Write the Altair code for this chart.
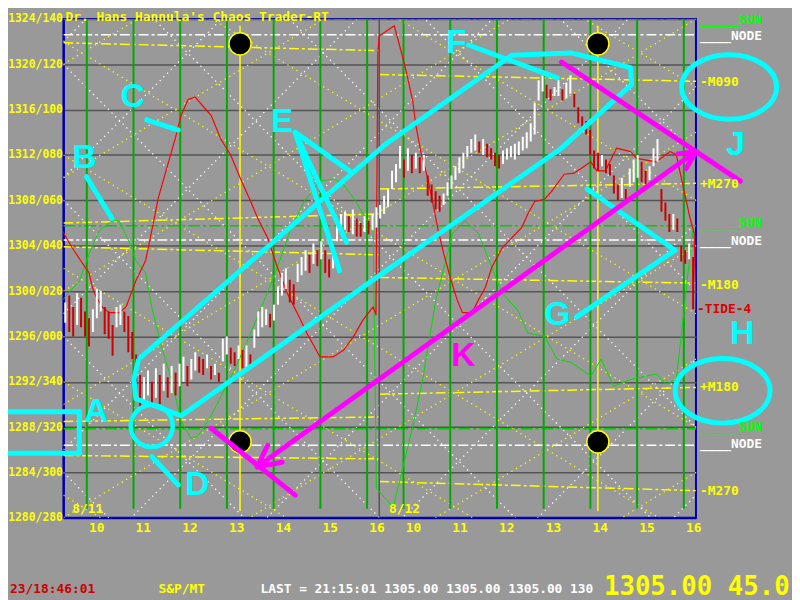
import altair as alt
import pandas as pd

# ------------------------------------------------------------------ texts
TITLE = "Dr. Hans Hannula's Chaos Trader-RT"
FOOT_CLOCK = "23/18:46:01"
FOOT_SYMBOL = "S&P/MT"
FOOT_LAST = "LAST = 21:15:01 1305.00 1305.00 1305.00 130"
FOOT_BIG = "1305.00 45.0"
DAY_LABELS = ["8/11", "8/12"]

# ------------------------------------------------------------------ axes
Y_TICKS = [1280, 1284, 1288, 1292, 1296, 1300, 1304, 1308, 1312, 1316, 1320, 1324]
Y_SUFFIX = ["280", "300", "320", "340", "000", "020", "040", "060", "080", "100", "120", "140"]
HOURS = [10, 11, 12, 13, 14, 15, 16]
DAY2_SHIFT = 6.78          # session 2 is drawn right after session 1
X_DOMAIN = [9.30, 22.84]
Y_DOMAIN = [1280, 1324]
SESSION_BREAK = 16.06

# ------------------------------------------------------------------ price bars (high / low)
D1_START, D1_STEP = 9.34, 0.0843
D2_START, D2_STEP = 16.08, 0.0848
D1_HI = [1299.0, 1299.6, 1298.6, 1299.8, 1299.4, 1298.2, 1297.6, 1298.4, 1300.2, 1300.0,
         1298.6, 1298.2, 1297.0, 1298.6, 1298.8, 1298.2, 1297.8, 1296.4, 1294.4, 1292.6,
         1292.4, 1293.0, 1292.0, 1293.2, 1292.6, 1293.6, 1292.4, 1293.4, 1292.8, 1293.6,
         1294.2, 1293.4, 1294.0, 1294.6, 1294.2, 1294.0, 1294.4, 1293.4, 1293.6, 1292.8,
         1295.8, 1296.0, 1295.0, 1294.6, 1295.2, 1294.8, 1295.2, 1294.4, 1296.6, 1298.2,
         1298.6, 1298.4, 1298.0, 1298.8, 1300.4, 1301.6, 1302.0, 1301.0, 1300.6, 1302.4,
         1303.0, 1303.6, 1303.2, 1304.2, 1303.6, 1304.4, 1303.6, 1302.8, 1303.4, 1305.8,
         1306.8, 1307.0, 1306.6, 1307.2, 1306.4, 1306.0, 1306.6, 1306.2, 1306.8, 1307.4]
D1_LO = [1297.2, 1296.4, 1296.0, 1297.0, 1296.8, 1296.0, 1295.1, 1296.4, 1297.6, 1298.2,
         1296.2, 1295.8, 1294.3, 1296.8, 1297.0, 1296.4, 1294.6, 1294.0, 1290.4, 1289.8,
         1290.2, 1290.8, 1289.8, 1290.6, 1290.0, 1291.2, 1290.6, 1291.0, 1290.8, 1291.6,
         1292.0, 1291.6, 1292.2, 1293.0, 1292.8, 1292.6, 1293.2, 1292.2, 1292.6, 1292.0,
         1293.8, 1294.4, 1293.6, 1293.4, 1294.0, 1293.2, 1292.9, 1293.4, 1295.0, 1296.0,
         1296.8, 1297.0, 1296.8, 1297.4, 1298.8, 1299.6, 1300.2, 1299.0, 1298.8, 1300.8,
         1301.4, 1301.8, 1301.6, 1302.4, 1302.2, 1302.8, 1301.6, 1301.2, 1302.0, 1304.4,
         1305.0, 1305.4, 1305.2, 1305.0, 1304.8, 1304.8, 1305.2, 1305.0, 1305.4, 1305.6]
D2_HI = [1307.6, 1308.4, 1309.0, 1310.6, 1311.2, 1312.8, 1311.6, 1312.6, 1312.0, 1312.2,
         1311.8, 1312.0, 1310.2, 1309.4, 1308.8, 1308.4, 1308.6, 1309.6, 1310.2, 1311.0,
         1311.8, 1312.2, 1312.8, 1313.4, 1313.8, 1313.2, 1313.4, 1313.0, 1312.6, 1312.2,
         1312.0, 1312.4, 1312.6, 1312.8, 1313.0, 1313.2, 1313.6, 1314.0, 1314.8, 1316.6,
         1318.6, 1319.0, 1318.2, 1317.8, 1318.0, 1318.6, 1317.8, 1318.4, 1319.0, 1317.4,
         1316.2, 1315.4, 1315.0, 1314.2, 1312.4, 1312.2, 1312.0, 1311.6, 1311.2, 1310.2,
         1309.4, 1310.0, 1309.0, 1310.8, 1311.6, 1312.0, 1311.4, 1310.6, 1311.0, 1312.6,
         1313.4, 1309.0, 1307.8, 1306.8, 1306.8, 1306.4, 1304.0, 1303.6, 1304.2, 1303.0]
D2_LO = [1306.4, 1306.8, 1307.4, 1309.0, 1309.6, 1310.8, 1310.0, 1310.6, 1310.4, 1310.8,
         1310.4, 1310.6, 1308.4, 1307.8, 1307.2, 1307.0, 1307.6, 1308.4, 1309.0, 1309.8,
         1310.4, 1310.8, 1311.8, 1312.2, 1312.4, 1312.2, 1312.0, 1311.8, 1311.6, 1311.0,
         1310.8, 1311.2, 1311.6, 1311.8, 1311.6, 1312.0, 1312.4, 1312.6, 1313.2, 1313.8,
         1316.8, 1317.6, 1317.0, 1316.8, 1317.2, 1317.2, 1316.8, 1317.0, 1317.4, 1316.2,
         1314.8, 1314.2, 1313.8, 1312.0, 1310.8, 1310.6, 1311.0, 1310.4, 1310.2, 1308.6,
         1308.0, 1308.2, 1307.8, 1309.2, 1309.6, 1310.0, 1309.6, 1309.4, 1309.8, 1311.0,
         1311.4, 1307.0, 1306.2, 1305.2, 1305.4, 1305.2, 1302.6, 1302.4, 1302.8, 1298.4]

# ------------------------------------------------------------------ oscillator lines
RED_U = [9.28, 9.49, 9.70, 9.85, 9.92, 10.0, 10.13, 10.28, 10.49, 10.64, 10.85, 11.06, 11.19,
         11.33, 11.55, 11.69, 11.82, 11.97, 12.12, 12.33, 12.46, 12.67, 12.88, 13.09, 13.31,
         13.45, 13.67, 13.88, 14.09, 14.30, 14.51, 14.79, 15.08, 15.30, 15.51, 15.72, 15.93,
         15.99, 16.03, 16.06, 16.38, 16.48, 16.63, 16.78, 16.84, 16.95, 17.10, 17.20, 17.31,
         17.44, 17.58, 17.73, 17.84, 18.05, 18.18, 18.33, 18.47, 18.69, 18.90, 19.11, 19.24,
         19.39, 19.60, 19.75, 20.02, 20.23, 20.59, 20.72, 20.90, 21.14, 21.44, 21.57, 21.99,
         22.29, 22.42, 22.57, 22.71, 22.80, 22.84]
RED_P = [1305.3, 1303.8, 1302.5, 1301.6, 1300.3, 1299.5, 1298.6, 1298.1, 1298.1, 1298.6,
         1300.9, 1302.7, 1305.3, 1308.2, 1311.4, 1313.4, 1315.5, 1316.9, 1317.1, 1316.1,
         1315.5, 1313.4, 1312.0, 1309.9, 1307.9, 1306.5, 1304.7, 1302.1, 1299.8, 1298.1,
         1296.3, 1294.2, 1294.2, 1294.8, 1296.0, 1297.5, 1298.6, 1297.9, 1321.0, 1322.5,
         1323.4, 1321.9, 1319.5, 1316.7, 1314.7, 1312.3, 1309.9, 1307.9, 1305.6, 1303.3,
         1301.2, 1299.2, 1298.1, 1298.1, 1299.2, 1300.3, 1302.1, 1303.8, 1304.7, 1305.6,
         1306.8, 1307.9, 1308.1, 1308.8, 1310.3, 1310.4, 1311.4, 1310.6, 1310.6, 1312.6,
         1312.3, 1311.7, 1311.4, 1312.3, 1312.0, 1309.1, 1306.5, 1305.1, 1298.3]
GREEN_U = [9.28, 9.64, 9.85, 10.06, 10.34, 10.49, 10.70, 10.85, 11.06, 11.19, 11.40, 11.61,
           11.76, 11.82, 12.03, 12.18, 12.46, 12.67, 12.97, 13.31, 13.60, 13.88, 14.15, 14.45,
           14.79, 15.08, 15.30, 15.51, 15.72, 15.93, 16.0, 16.36, 16.78, 16.99, 17.27, 17.63,
           17.90, 18.18, 18.47, 18.69, 19.03, 19.24, 19.60, 19.87, 20.17, 20.59, 20.81, 21.08,
           21.44, 21.99, 22.20, 22.42, 22.67, 22.78]
GREEN_P = [1299.2, 1300.9, 1303.3, 1305.3, 1306.2, 1306.2, 1304.4, 1302.7, 1301.6, 1298.6,
           1295.1, 1292.2, 1289.6, 1288.5, 1287.0, 1287.2, 1289.0, 1290.7, 1293.1, 1296.3,
           1299.2, 1302.1, 1305.3, 1307.9, 1309.7, 1309.9, 1309.4, 1308.2, 1306.8, 1305.3,
           1282.6, 1280.9, 1288.1, 1292.2, 1299.2, 1305.1, 1306.2, 1305.1, 1302.1, 1299.8,
           1298.3, 1296.3, 1296.0, 1294.0, 1293.7, 1292.5, 1294.0, 1291.6, 1292.2, 1292.7,
           1291.8, 1292.2, 1301.6, 1305.6]

# ------------------------------------------------------------------ level lines
NODE_LEVELS = [1322.6, 1304.5, 1286.4]
SUN_LEVELS = [1324.0, 1305.75, 1287.85]
MOON_D1_START = [1321.9, 1306.0, 1303.9, 1288.5, 1285.5]
MOON_D1_END = [1321.2, 1306.8, 1303.2, 1288.9, 1285.2]
MOON_D2_START = [1319.1, 1309.0, 1301.2, 1290.9, 1283.2]
MOON_D2_END = [1318.5, 1309.5, 1300.7, 1291.5, 1282.4]
GREEN_TIMES = [9.8, 10.8, 11.8, 12.8, 13.8, 14.8, 15.8]
YELLOW_TIMES = [13.08, 20.74]
DOT_PRICES = [1321.8, 1286.7]

# diagonal lattice (price at left edge -> price at right edge)
WHITE_DOWN = [(1284, 1228), (1296, 1240), (1308, 1252), (1320, 1264), (1332, 1276),
              (1344, 1288), (1356, 1300), (1368, 1312), (1380, 1324)]
WHITE_UP = [(1226, 1282), (1238, 1294), (1250, 1306), (1262, 1318), (1274, 1330),
            (1286, 1342), (1298, 1354), (1310, 1366), (1322, 1378)]
YEL_DOWN = [(1282, 1248), (1292, 1258), (1302, 1268), (1312, 1278), (1322, 1288),
            (1332, 1298), (1342, 1308), (1352, 1318)]
YEL_UP = [(1250, 1284), (1260, 1294), (1270, 1304), (1280, 1314), (1290, 1324),
          (1300, 1334), (1310, 1344), (1320, 1354)]

# right-hand labels (text, price, colour)
RIGHT_LABELS = [("_____SUN", 1323.9, "#00ff00"), ("____NODE", 1322.5, "#ffffff"),
                ("-M090", 1318.4, "#ffff00"), ("+M270", 1309.4, "#ffff00"),
                ("_____SUN", 1306.0, "#00ff00"), ("____NODE", 1304.4, "#ffffff"),
                ("-M180", 1300.5, "#ffff00"), ("+M180", 1291.5, "#ffff00"),
                ("_____SUN", 1288.0, "#00ff00"), ("____NODE", 1286.5, "#ffffff"),
                ("-M270", 1282.4, "#ffff00")]
TIDE_LABEL = ("-TIDE-4", 1298.4)

# ------------------------------------------------------------------ annotations
LETTERS = ["A", "B", "C", "D", "E", "F", "G", "H", "J", "K"]
LETTER_U = [10.0, 9.75, 10.78, 12.16, 13.98, 17.71, 19.87, 23.83, 23.69, 17.86]
LETTER_P = [1289.3, 1311.7, 1317.1, 1282.9, 1314.9, 1321.9, 1297.9, 1296.2, 1312.9, 1294.3]
LETTER_COL = ["#00ffff"] * 9 + ["#ff00ff"]

CHANNEL_U = [10.91, 16.21, 18.90, 20.17, 21.44, 21.46, 19.96, 16.21, 11.82, 10.85, 10.81, 10.91]
CHANNEL_P = [1294.0, 1313.0, 1320.8, 1321.0, 1319.7, 1318.2, 1312.6, 1301.8, 1289.0, 1290.5,
             1292.2, 1294.0]
CYAN_SEGS = [(9.79, 1310.1, 10.34, 1306.4), (11.08, 1315.1, 11.76, 1314.2),
             (14.26, 1314.0, 15.42, 1310.6), (14.26, 1314.0, 15.36, 1304.3),
             (14.26, 1314.0, 15.21, 1301.8), (17.97, 1321.7, 19.87, 1318.8),
             (20.51, 1309.0, 22.39, 1303.6), (22.39, 1303.6, 20.28, 1297.7),
             (11.19, 1285.4, 11.76, 1282.9),
             (8.11, 1289.35, 9.64, 1289.35), (9.64, 1289.35, 9.64, 1285.7),
             (9.64, 1285.7, 8.11, 1285.7)]
CYAN_CIRCLE = (11.19, 1288.1)
CYAN_OVALS_U = [23.55, 23.41]
CYAN_OVALS_P = [1318.0, 1291.2]
MAGENTA_SEGS = [(19.96, 1320.2, 23.79, 1309.7), (22.84, 1312.3, 13.45, 1284.5),
                (13.45, 1284.5, 13.67, 1286.4), (13.45, 1284.5, 13.98, 1284.9),
                (22.84, 1312.3, 22.45, 1312.1), (22.84, 1312.3, 22.63, 1310.8),
                (12.46, 1287.9, 14.26, 1282.0)]

# ------------------------------------------------------------------ colours
BG = "#999999"
GRID = "#555555"
YELLOW = "#ffff00"
GREEN = "#00aa00"
BLUE = "#0000aa"
CYAN = "#00ffff"
MAGENTA = "#ff00ff"
MONO = "DejaVu Sans Mono"

W, H = 639, 504
xs = alt.Scale(domain=X_DOMAIN, nice=False, zero=False)
ys = alt.Scale(domain=Y_DOMAIN, nice=False, zero=False)

y_expr = "".join(f"datum.value == {t} ? '{t}/{s}' : " for t, s in zip(Y_TICKS, Y_SUFFIX)) + "''"
x_values = HOURS + [h + DAY2_SHIFT for h in HOURS]
x_expr = f"datum.value < 16.5 ? format(datum.value, 'd') : format(datum.value - {DAY2_SHIFT}, '.0f')"

X_AXIS = alt.Axis(values=x_values, labelExpr=x_expr, title=None, grid=False, ticks=False,
                  domainColor=BLUE, domainWidth=2, labelColor=YELLOW, labelFont=MONO,
                  labelFontWeight="bold", labelFontSize=13, labelPadding=4,
                  labelFlush=False, labelOverlap=False)
Y_AXIS = alt.Axis(values=Y_TICKS, labelExpr=y_expr, title=None, grid=True, gridColor=GRID,
                  gridWidth=1.5, ticks=False, domainColor=BLUE, domainWidth=2,
                  labelColor=YELLOW, labelFont=MONO, labelFontWeight="bold", labelFontSize=11.5,
                  labelPadding=1, labelFlush=False, labelOverlap=False)


def X(f="u"):
    return alt.X(f"{f}:Q", scale=xs, axis=X_AXIS)


def Y(f="p"):
    return alt.Y(f"{f}:Q", scale=ys, axis=Y_AXIS)


def rules(segs, color, width, dash=None, clip=True, cap="butt"):
    df = pd.DataFrame(segs, columns=["u", "p", "u2", "p2"])
    kw = dict(color=color, strokeWidth=width, clip=clip, strokeCap=cap)
    if dash:
        kw["strokeDash"] = dash
    return alt.Chart(df).mark_rule(**kw).encode(x=X(), x2="u2:Q", y=Y(), y2="p2:Q")


def path(us, ps, color, width, clip=True):
    df = pd.DataFrame({"u": us, "p": ps, "i": list(range(len(us)))})
    return alt.Chart(df).mark_line(color=color, strokeWidth=width, clip=clip,
                                   strokeJoin="round").encode(x=X(), y=Y(), order="i:Q")


def label(text, px, py, color, size=13, align="left", baseline="middle", font=MONO):
    return alt.Chart(alt.Data(values=[{}])).mark_text(
        text=text, color=color, fontSize=size, font=font, fontWeight="bold",
        align=align, baseline=baseline
    ).encode(x=alt.value(px), y=alt.value(py))


# ------------------------------------------------------------------ lattice & levels
lattice = [
    rules([(X_DOMAIN[0], a, X_DOMAIN[1], b) for a, b in WHITE_DOWN + WHITE_UP], "#ffffff", 1.3, [1.3, 4]),
    rules([(X_DOMAIN[0], a, X_DOMAIN[1], b) for a, b in YEL_DOWN + YEL_UP], YELLOW, 1.3, [1.3, 4]),
]
levels = [
    rules([(X_DOMAIN[0], p, X_DOMAIN[1], p) for p in SUN_LEVELS], "#00cc00", 1.5, [12, 3, 3, 3]),
    rules([(X_DOMAIN[0], p, X_DOMAIN[1], p) for p in NODE_LEVELS], "#ffffff", 1.5, [10, 3, 3, 3]),
    rules([(X_DOMAIN[0], a, SESSION_BREAK, b) for a, b in zip(MOON_D1_START, MOON_D1_END)]
          + [(SESSION_BREAK, a, X_DOMAIN[1], b) for a, b in zip(MOON_D2_START, MOON_D2_END)],
          YELLOW, 1.5, [10, 3, 3, 3]),
]
verticals = [
    rules([(t, 1324, t, 1280.8) for t in GREEN_TIMES]
          + [(t + DAY2_SHIFT, 1324, t + DAY2_SHIFT, 1280.8) for t in GREEN_TIMES], GREEN, 2),
    rules([(SESSION_BREAK, 1324, SESSION_BREAK, 1280)], GRID, 1.5),
    rules([(t, 1323.4, t, 1280.6) for t in YELLOW_TIMES], YELLOW, 1.5),
]

# ------------------------------------------------------------------ bars
rows = []
prev = None
for start, step, his, los in [(D1_START, D1_STEP, D1_HI, D1_LO), (D2_START, D2_STEP, D2_HI, D2_LO)]:
    for i, (hi, lo) in enumerate(zip(his, los)):
        mid = (hi + lo) / 2
        col = "#ffffff" if prev is None or mid >= prev else "#cc0000"
        prev = mid
        rows.append({"u": start + i * step, "hi": hi, "lo": lo, "col": col})
bars = alt.Chart(pd.DataFrame(rows)).mark_rule(strokeWidth=2, clip=True).encode(
    x=X(), y=alt.Y("hi:Q", scale=ys, axis=Y_AXIS), y2="lo:Q",
    color=alt.Color("col:N", scale=None))

# ------------------------------------------------------------------ dots
dot_df = pd.DataFrame([{"u": t, "p": p} for t in YELLOW_TIMES for p in DOT_PRICES])
dots = alt.Chart(dot_df).mark_point(shape="circle", size=500, filled=True, fill="black",
                                    stroke=YELLOW, strokeWidth=1.5, opacity=1).encode(x=X(), y=Y())

# ------------------------------------------------------------------ annotations
OVAL = "M -1 0 A 1 0.68 0 1 0 1 0 A 1 0.68 0 1 0 -1 0 Z"
ovals = alt.Chart(pd.DataFrame({"u": CYAN_OVALS_U, "p": CYAN_OVALS_P})).mark_point(
    shape=OVAL, size=9200, filled=False, color=CYAN, strokeWidth=5, opacity=1, clip=False
).encode(x=X(), y=Y())
circle = alt.Chart(pd.DataFrame({"u": [CYAN_CIRCLE[0]], "p": [CYAN_CIRCLE[1]]})).mark_point(
    shape="circle", size=1800, filled=False, color=CYAN, strokeWidth=4.5, opacity=1, clip=False
).encode(x=X(), y=Y())
letters = alt.Chart(pd.DataFrame({"u": LETTER_U, "p": LETTER_P, "t": LETTERS, "c": LETTER_COL})).mark_text(
    font="Liberation Sans", fontWeight="bold", fontSize=34, align="center", baseline="middle", clip=False
).encode(x=X(), y=Y(), text="t:N", color=alt.Color("c:N", scale=None))

right = alt.Chart(pd.DataFrame({"t": [r[0] for r in RIGHT_LABELS], "p": [r[1] for r in RIGHT_LABELS],
                                "c": [r[2] for r in RIGHT_LABELS]})).mark_text(
    font=MONO, fontWeight="bold", fontSize=13, align="left", baseline="middle", clip=False
).encode(x=alt.value(643), y=Y(), text="t:N", color=alt.Color("c:N", scale=None))
tide = alt.Chart(pd.DataFrame({"t": [TIDE_LABEL[0]], "p": [TIDE_LABEL[1]]})).mark_text(
    font=MONO, fontWeight="bold", fontSize=13, align="left", baseline="middle", color="#dd0000", clip=False
).encode(x=alt.value(640), y=Y(), text="t:N")

chrome = [
    label(TITLE, 2, -8, YELLOW, baseline="top"),
    label(DAY_LABELS[0], 9, 495, YELLOW),
    label(DAY_LABELS[1], 329, 495, YELLOW),
    label(FOOT_CLOCK, -54, 576, "#cc0000"),
    label(FOOT_SYMBOL, 96, 576, YELLOW),
    label(FOOT_LAST, 199, 576, "#ffffff"),
    label(FOOT_BIG, 546, 582, YELLOW, size=26, baseline="alphabetic"),
]

chart = alt.layer(
    *lattice, *levels, *verticals,
    path(GREEN_U, GREEN_P, "#00dd00", 1),
    path(RED_U, RED_P, "#ff0000", 1.2),
    bars, dots,
    path(CHANNEL_U, CHANNEL_P, CYAN, 5, clip=False),
    rules(CYAN_SEGS, CYAN, 5, clip=False, cap="round"),
    circle, ovals,
    rules(MAGENTA_SEGS, MAGENTA, 5, clip=False, cap="round"),
    letters, right, tide, *chrome,
).properties(
    width=W, height=H, background=BG,
    autosize=alt.AutoSizeParams(type="none"),
    padding={"left": 56, "top": 8, "right": 97, "bottom": 84},
).configure_view(stroke=BLUE, strokeWidth=2)

chart.save("out.html", embed_options={"renderer": "svg", "actions": False})
